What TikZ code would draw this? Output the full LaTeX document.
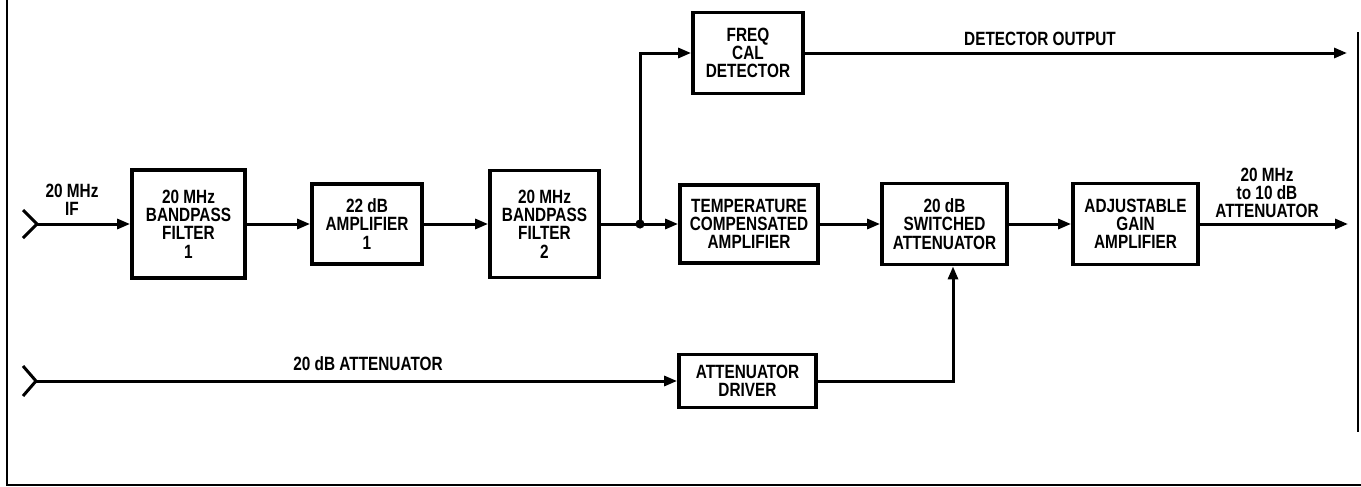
\documentclass[tikz,border=0pt]{standalone}
\usepackage{fontspec}
\setmainfont{Liberation Sans}[FakeStretch=0.8]
\usetikzlibrary{arrows.meta,calc}
\newcommand\diaglbl{\fontsize{9.6}{9.1}\selectfont\bfseries}
\begin{document}
\begin{tikzpicture}[x=0.5pt,y=-0.5pt,
  box/.style={draw, line width=1.9pt, align=center, inner sep=0pt, font=\diaglbl},
  lbl/.style={align=center, inner sep=0pt, font=\diaglbl},
  wire/.style={line width=1.5pt},
  conn/.style={line width=1.5pt, -{Triangle[length=6.5pt,width=5pt]}},
  frame/.style={line width=1.1pt}]
\useasboundingbox (0,0) rectangle (1361,487);
% frame
\draw[frame] (7,0) -- (7,485) -- (1361,485);
\draw[line width=0.8pt] (1358,32) -- (1358,432);
% boxes
\node[box, minimum width=56.5pt, minimum height=54pt] (bpf1) at (188.5,224) {20 MHz\\BANDPASS\\FILTER\\1};
\node[box, minimum width=55pt, minimum height=40pt] (amp1) at (367,224) {22 dB\\AMPLIFIER\\1};
\node[box, minimum width=54.5pt, minimum height=53.5pt] (bpf2) at (544.5,224) {20 MHz\\BANDPASS\\FILTER\\2};
\node[box, minimum width=69pt, minimum height=39pt] (tca) at (749,224) {TEMPERATURE\\COMPENSATED\\AMPLIFIER};
\node[box, minimum width=62.5pt, minimum height=40.5pt] (sw) at (944.5,224) {20 dB\\SWITCHED\\ATTENUATOR};
\node[box, minimum width=62.5pt, minimum height=40.5pt] (agc) at (1135.5,224) {ADJUSTABLE\\GAIN\\AMPLIFIER};
\node[box, minimum width=55pt, minimum height=40.5pt] (fcd) at (748,53) {FREQ\\CAL\\DETECTOR};
\node[box, minimum width=68.5pt, minimum height=26.5pt] (drv) at (747.5,381) {ATTENUATOR\\DRIVER};
% labels
\node[lbl] (lif) at (72,200) {20 MHz\\IF};
\node[lbl] (ldet) at (1040,39) {DETECTOR OUTPUT};
\node[lbl] (lout) at (1267,193) {20 MHz\\to 10 dB\\ATTENUATOR};
\node[lbl] (latt) at (368,364) {20 dB ATTENUATOR};
% coordinates
\coordinate (in1) at (37,224);
\coordinate (in2) at (36,381);
\coordinate (j) at (640,224);
\coordinate (out1) at (1348,224);
\coordinate (out2) at (1347,53);
\coordinate (turn) at (953,381);
% input chevrons
\draw[wire] ($(in1)+(-14,-14)$) -- (in1) -- ($(in1)+(-14,14)$);
\draw[wire] ($(in2)+(-13,-15)$) -- (in2) -- ($(in2)+(-13,15)$);
% connectors
\draw[conn] (in1) -- (bpf1);
\draw[conn] (bpf1) -- (amp1);
\draw[conn] (amp1) -- (bpf2);
\draw[wire] (bpf2) -- (j);
\fill (j) circle (2.3pt);
\draw[conn] (j) -- (tca);
\draw[conn] (j) |- (fcd);
\draw[conn] (tca) -- (sw);
\draw[conn] (sw) -- (agc);
\draw[conn] (agc) -- (out1);
\draw[conn] (fcd) -- (out2);
\draw[conn] (in2) -- (drv);
\draw[conn] (drv) -- (turn) -- (turn |- sw.south);
\end{tikzpicture}
\end{document}
